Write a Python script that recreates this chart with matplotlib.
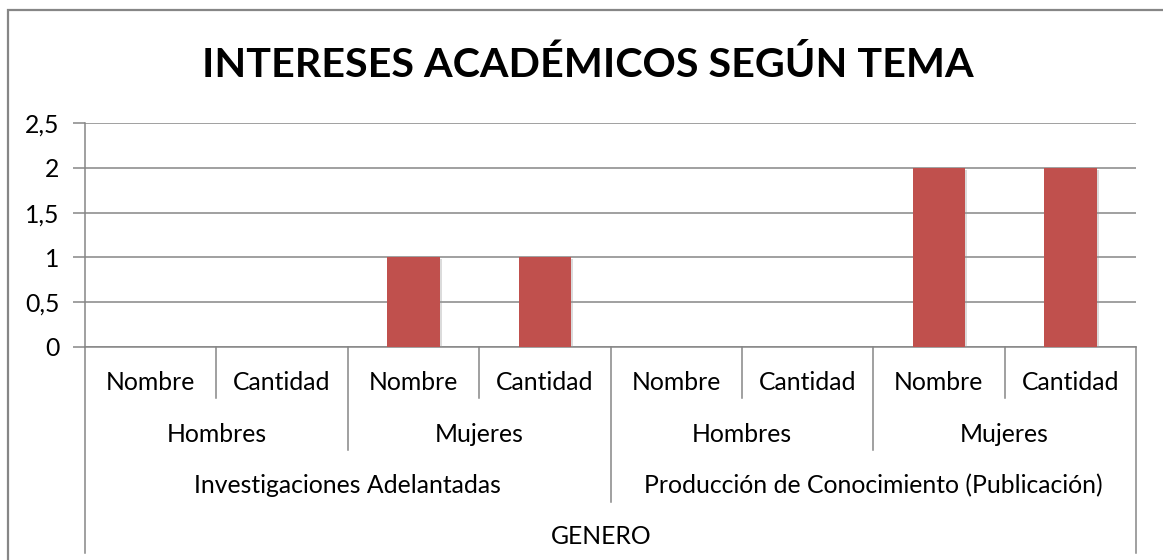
import matplotlib
matplotlib.use("Agg")
import matplotlib.pyplot as plt
import matplotlib.patheffects as pe
from matplotlib.patches import Rectangle
from matplotlib.transforms import blended_transform_factory
import numpy as np

# ---- data ----
title = "INTERESES ACADÉMICOS SEGÚN TEMA"
topics = ["Investigaciones Adelantadas", "Producción de Conocimiento (Publicación)"]
genders = ["Hombres", "Mujeres"]
fields = ["Nombre", "Cantidad"]
outer_label = "GENERO"
values = [0, 0, 1, 1, 0, 0, 2, 2]
y_ticks = [0, 0.5, 1, 1.5, 2, 2.5]
y_tick_labels = ["0", "0,5", "1", "1,5", "2", "2,5"]

# ---- style ----
W, H = 1163, 560
FONT = "Lato"
BAR_COLOR = "#C0504D"
LINE_COLOR = "#868686"
TXT = 17.8

plt.rcParams["font.family"] = [FONT, "DejaVu Sans"]

fig = plt.figure(figsize=(W / 100, H / 100), dpi=100)
fig.patch.set_facecolor("white")


def fx(px):
    return px / W


def fy(py):
    return 1 - py / H


# outer chart frame (extends past the right and bottom edges)
fig.patches.append(Rectangle((fx(8), fy(600)), fx(1300), fy(10) - fy(600),
                             transform=fig.transFigure, fill=False,
                             edgecolor=LINE_COLOR, linewidth=1.6, zorder=0))

left, right, top, bottom = 85, 1136, 123, 347
ax = fig.add_axes([fx(left), fy(bottom), fx(right - left), fy(top) - fy(bottom)])

n = len(values)
x = np.arange(n)
bars = ax.bar(x, values, width=0.4, color=BAR_COLOR, zorder=3)
for b in bars:
    b.set_path_effects([pe.SimplePatchShadow(offset=(1.5, -1.5), shadow_rgbFace="#999999", alpha=0.35),
                        pe.Normal()])

ax.set_xlim(-0.5, n - 0.5)
ax.set_ylim(0, 2.5)
ax.set_yticks(y_ticks)
ax.set_yticklabels(y_tick_labels, fontsize=TXT)
ax.tick_params(axis="y", length=9, width=1.1, color=LINE_COLOR, pad=9.5)
ax.set_xticks([])
ax.yaxis.grid(True, color=LINE_COLOR, linewidth=1.1, zorder=1)
ax.set_axisbelow(True)
for s in ["top", "right"]:
    ax.spines[s].set_visible(False)
ax.spines["left"].set_color(LINE_COLOR)
ax.spines["left"].set_linewidth(1.1)
ax.spines["bottom"].set_color(LINE_COLOR)
ax.spines["bottom"].set_linewidth(1.1)

tr = blended_transform_factory(ax.transData, fig.transFigure)


def vline(xd, y_end_px):
    ax.plot([xd, xd], [fy(bottom), fy(y_end_px)], transform=tr, color=LINE_COLOR,
            linewidth=1.1, clip_on=False, zorder=2)


# multi-level category axis
labels_l1 = [fields[i % 2] for i in range(n)]
for i, lab in enumerate(labels_l1):
    ax.text(i, fy(390), lab, transform=tr, ha="center", va="baseline", fontsize=TXT)
for g in range(n // 2):
    ax.text(2 * g + 0.5, fy(441.5), genders[g % 2], transform=tr, ha="center",
            va="baseline", fontsize=TXT)
for t, topic in enumerate(topics):
    ax.text(4 * t + 1.5, fy(493), topic, transform=tr, ha="center", va="baseline", fontsize=TXT)
ax.text((n - 1) / 2 - 0.07, fy(544), outer_label, transform=tr, ha="center",
        va="baseline", fontsize=TXT)

for k in range(n // 2):
    vline(2 * k + 0.5, 398)
for k in range(2):
    vline(4 * k + 1.5, 450)
vline(3.5, 502)
vline(-0.5, 553)
vline(n - 0.5, 553)

fig.text(fx(587.5), fy(77), title, ha="center", va="baseline", fontsize=29.7,
         fontweight="bold")

fig.savefig("out.png", dpi=100, facecolor="white")
